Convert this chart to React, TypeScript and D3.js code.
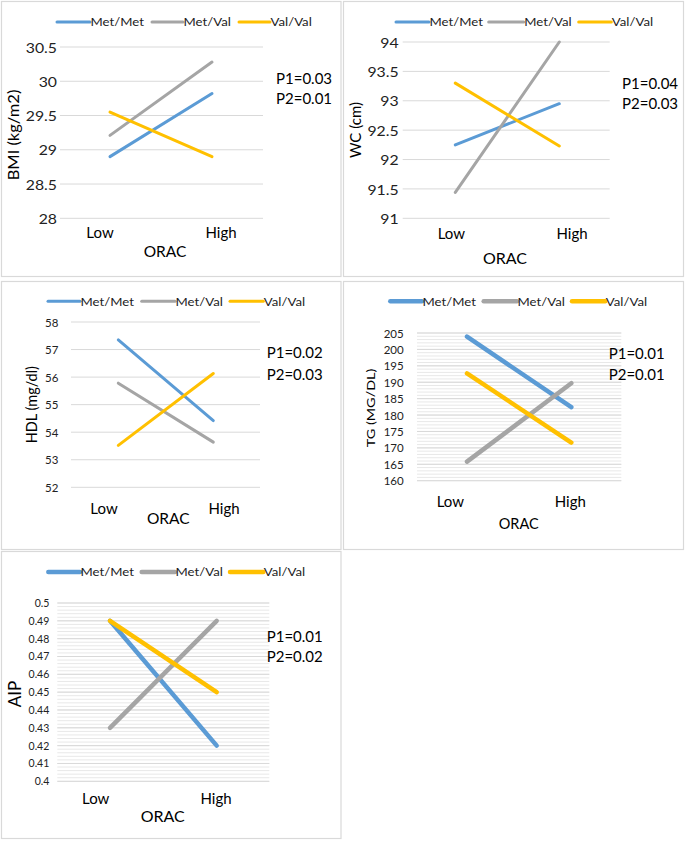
import React from "react";
import * as d3 from "d3";

const categories = ["Low", "High"];
const seriesNames = ["Met/Met", "Met/Val", "Val/Val"];
const seriesColors = ["#5B9BD5", "#A5A5A5", "#FFC000"];

const bmiMetMet = [28.9, 29.82];
const bmiMetVal = [29.21, 30.28];
const bmiValVal = [29.55, 28.9];
const bmiTicks = [28, 28.5, 29, 29.5, 30, 30.5];

const wcMetMet = [92.25, 92.95];
const wcMetVal = [91.44, 94.0];
const wcValVal = [93.3, 92.23];
const wcTicks = [91, 91.5, 92, 92.5, 93, 93.5, 94];

const hdlMetMet = [57.35, 54.42];
const hdlMetVal = [55.78, 53.64];
const hdlValVal = [53.52, 56.13];
const hdlTicks = [52, 53, 54, 55, 56, 57, 58];

const tgMetMet = [203.9, 182.4];
const tgMetVal = [165.8, 189.7];
const tgValVal = [192.7, 171.6];
const tgTicks = [160, 165, 170, 175, 180, 185, 190, 195, 200, 205];

const aipMetMet = [0.49, 0.42];
const aipMetVal = [0.43, 0.49];
const aipValVal = [0.49, 0.45];
const aipTicks = [0.4, 0.41, 0.42, 0.43, 0.44, 0.45, 0.46, 0.47, 0.48, 0.49, 0.5];

const FONT = "Lato, 'Open Sans', sans-serif";

type PanelCfg = {
  box: [number, number, number, number];
  gridX: [number, number];
  yRange: [number, number];
  ticks: number[];
  minorStep?: number;
  xPts: [number, number];
  tickRight: number;
  tickFont: number;
  tickSX: number;
  legendY: number;
  legendLines: [number, number][];
  pX: number;
  pY: [number, number];
  pFont: number;
  pTexts: [string, string];
  catX: [number, number];
  catY: number;
  catFont: number;
  oracX: number;
  oracY: number;
  oracFont: number;
  yTitle: string;
  yTitleX: number;
  yTitleY: number;
  yTitleFont: number;
  yTitleSX: number;
  lw: number;
  data: number[][];
};

const LEGEND_FONT = 12;
const LEGEND_SX = 1.1;

const panels: PanelCfg[] = [
  {
    box: [1, 1, 341.5, 277],
    gridX: [60, 263],
    yRange: [218.3, 47],
    ticks: bmiTicks,
    xPts: [110, 212],
    tickRight: 57,
    tickFont: 14,
    tickSX: 1.13,
    legendY: 22,
    legendLines: [[57, 90], [152, 183], [239, 270]],
    pX: 276,
    pY: [78, 98],
    pFont: 15,
    pTexts: ["P1=0.03", "P2=0.01"],
    catX: [100, 221],
    catY: 232,
    catFont: 15,
    oracX: 165,
    oracY: 251,
    oracFont: 15.5,
    yTitle: "BMI (kg/m2)",
    yTitleX: 13,
    yTitleY: 135,
    yTitleFont: 15,
    yTitleSX: 1.1,
    lw: 3,
    data: [bmiMetMet, bmiMetVal, bmiValVal],
  },
  {
    box: [343, 1, 684, 277],
    gridX: [402.7, 609.7],
    yRange: [218.3, 42],
    ticks: wcTicks,
    xPts: [455.3, 559.3],
    tickRight: 398.7,
    tickFont: 14,
    tickSX: 1.13,
    legendY: 22,
    legendLines: [[396, 429], [488.7, 523.7], [578.7, 611.3]],
    pX: 622,
    pY: [83, 103],
    pFont: 15,
    pTexts: ["P1=0.04", "P2=0.03"],
    catX: [451.3, 572],
    catY: 233,
    catFont: 15,
    oracX: 505,
    oracY: 257,
    oracFont: 16,
    yTitle: "WC (cm)",
    yTitleX: 355,
    yTitleY: 130,
    yTitleFont: 15,
    yTitleSX: 1,
    lw: 3,
    data: [wcMetMet, wcMetVal, wcValVal],
  },
  {
    box: [1, 281, 341.5, 550],
    gridX: [71, 260],
    yRange: [487.3, 322],
    ticks: hdlTicks,
    xPts: [118.3, 213.3],
    tickRight: 58.3,
    tickFont: 11.5,
    tickSX: 1,
    legendY: 301.3,
    legendLines: [[48, 80], [141.7, 175], [230, 263.3]],
    pX: 266.7,
    pY: [352, 373.7],
    pFont: 15,
    pTexts: ["P1=0.02", "P2=0.03"],
    catX: [104, 224],
    catY: 508,
    catFont: 15,
    oracX: 168.3,
    oracY: 518,
    oracFont: 15.5,
    yTitle: "HDL (mg/dl)",
    yTitleX: 31.7,
    yTitleY: 404.7,
    yTitleFont: 14.5,
    yTitleSX: 1,
    lw: 3,
    data: [hdlMetMet, hdlMetVal, hdlValVal],
  },
  {
    box: [343, 281, 684, 550],
    gridX: [417, 621.3],
    yRange: [480.7, 333],
    ticks: tgTicks,
    minorStep: 1,
    xPts: [467, 571.3],
    tickRight: 403.7,
    tickFont: 11.5,
    tickSX: 1,
    legendY: 301.3,
    legendLines: [[390.3, 422], [483.7, 517], [572, 605.3]],
    pX: 608.7,
    pY: [353, 373.7],
    pFont: 15,
    pTexts: ["P1=0.01", "P2=0.01"],
    catX: [450.3, 570.3],
    catY: 500.7,
    catFont: 15,
    oracX: 518.7,
    oracY: 523,
    oracFont: 14.5,
    yTitle: "TG (MG/DL)",
    yTitleX: 370.3,
    yTitleY: 408,
    yTitleFont: 12,
    yTitleSX: 1.2,
    lw: 4.5,
    data: [tgMetMet, tgMetVal, tgValVal],
  },
  {
    box: [1, 551, 341.5, 839],
    gridX: [57.3, 269.3],
    yRange: [781.3, 603],
    ticks: aipTicks,
    minorStep: 0.002,
    xPts: [110, 216.7],
    tickRight: 49.3,
    tickFont: 10.5,
    tickSX: 1,
    legendY: 572,
    legendLines: [[48.3, 80], [141.7, 175], [230, 263.3]],
    pX: 266.7,
    pY: [636.3, 656.3],
    pFont: 15,
    pTexts: ["P1=0.01", "P2=0.02"],
    catX: [95.7, 216],
    catY: 798,
    catFont: 15,
    oracX: 162.7,
    oracY: 815,
    oracFont: 16,
    yTitle: "AIP",
    yTitleX: 14,
    yTitleY: 694,
    yTitleFont: 17,
    yTitleSX: 1,
    lw: 4.5,
    data: [aipMetMet, aipMetVal, aipValVal],
  },
];

function Panel({ c }: { c: PanelCfg }) {
  const dom = d3.extent(c.ticks) as [number, number];
  const y = d3.scaleLinear().domain(dom).range(c.yRange);
  const x = d3.scalePoint<string>().domain(categories).range(c.xPts);
  const line = d3
    .line<number>()
    .x((_, i) => x(categories[i]) as number)
    .y((v) => y(v));
  const minor: number[] = [];
  if (c.minorStep) {
    const n = Math.round((dom[1] - dom[0]) / c.minorStep);
    for (let i = 0; i <= n; i++) minor.push(dom[0] + i * c.minorStep);
  }
  const [bx0, by0, bx1, by1] = c.box;
  return (
    <g fontFamily={FONT}>
      <rect x={bx0 + 0.5} y={by0 + 0.5} width={bx1 - bx0 - 1} height={by1 - by0 - 1} fill="#fff" stroke="#d9d9d9" strokeWidth={1.2} />
      {minor.map((m, i) => (
        <line key={"m" + i} x1={c.gridX[0]} x2={c.gridX[1]} y1={y(m)} y2={y(m)} stroke="#e8e8e8" strokeWidth={1} />
      ))}
      {c.ticks.map((t) => (
        <line key={"g" + t} x1={c.gridX[0]} x2={c.gridX[1]} y1={y(t)} y2={y(t)} stroke="#d9d9d9" strokeWidth={1} />
      ))}
      {c.ticks.map((t) => (
        <text
          key={"t" + t}
          transform={`translate(${c.tickRight},${y(t)}) scale(${c.tickSX},1)`}
          textAnchor="end"
          dominantBaseline="central"
          fontSize={c.tickFont}
          fill="#222"
        >
          {String(t)}
        </text>
      ))}
      {c.data.map((d, i) => (
        <path key={"s" + i} d={line(d) || ""} fill="none" stroke={seriesColors[i]} strokeWidth={c.lw} strokeLinecap="round" />
      ))}
      {seriesNames.map((s, i) => (
        <g key={"l" + i}>
          <line x1={c.legendLines[i][0]} x2={c.legendLines[i][1]} y1={c.legendY} y2={c.legendY} stroke={seriesColors[i]} strokeWidth={c.lw} strokeLinecap="round" />
          <text
            transform={`translate(${c.legendLines[i][1] + 0.5},${c.legendY}) scale(${LEGEND_SX},1)`}
            dominantBaseline="central"
            fontSize={LEGEND_FONT}
            fill="#222"
          >
            {s}
          </text>
        </g>
      ))}
      {c.pTexts.map((p, i) => (
        <text key={"p" + i} x={c.pX} y={c.pY[i]} dominantBaseline="central" fontSize={c.pFont} fill="#000">
          {p}
        </text>
      ))}
      {categories.map((cat, i) => (
        <text key={"c" + i} x={c.catX[i]} y={c.catY} textAnchor="middle" dominantBaseline="central" fontSize={c.catFont} fill="#000">
          {cat}
        </text>
      ))}
      <text x={c.oracX} y={c.oracY} textAnchor="middle" dominantBaseline="central" fontSize={c.oracFont} fill="#000">
        ORAC
      </text>
      <text
        transform={`translate(${c.yTitleX},${c.yTitleY}) rotate(-90) scale(${c.yTitleSX},1)`}
        textAnchor="middle"
        dominantBaseline="central"
        fontSize={c.yTitleFont}
        fill="#000"
      >
        {c.yTitle}
      </text>
    </g>
  );
}

export default function App() {
  return (
    <div style={{ position: "absolute", left: 0, top: 0 }}>
      <svg width={685} height={846} style={{ display: "block", background: "#fff" }}>
        <rect x={0} y={0} width={685} height={846} fill="#fff" />
        {panels.map((p, i) => (
          <Panel key={i} c={p} />
        ))}
      </svg>
    </div>
  );
}
